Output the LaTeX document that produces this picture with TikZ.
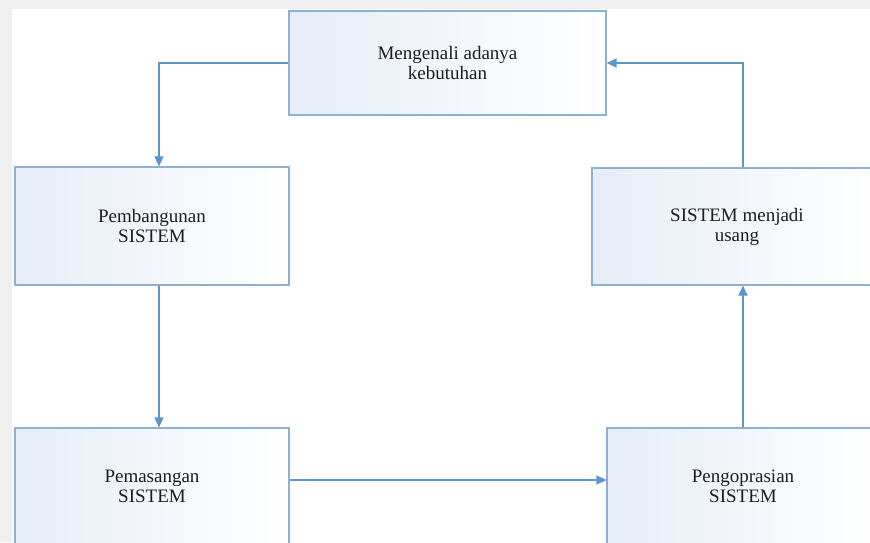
\documentclass[tikz,border=0pt]{standalone}
\usepackage{fontspec}
\setmainfont{Liberation Serif}
\usetikzlibrary{arrows.meta,calc}
\definecolor{framegray}{HTML}{EFEFEF}
\definecolor{boxline}{HTML}{8DB1D4}
\definecolor{boxfill}{HTML}{E6EDF6}
\definecolor{arrowblue}{HTML}{5E95C8}
\definecolor{txt}{HTML}{1E1E1E}
\tikzset{
  stagebox/.style={draw=boxline, line width=1.1pt, inner sep=0pt,
    shading=axis, shading angle=-60, left color=boxfill, right color=white,
    align=center, text=txt, font=\fontsize{19}{20}\selectfont},
  flowarrow/.style={draw=arrowblue, line width=1.2pt,
    -{Triangle[length=10pt,width=9pt]}},
}
\begin{document}
\begin{tikzpicture}[x=1pt,y=-1pt]
\useasboundingbox (0,0) rectangle (870,542);
\clip (0,0) rectangle (870,542);
\fill[framegray] (0,0) rectangle (870,542);
\fill[white] (12,9) rectangle (870,542);

\node[stagebox, minimum width=317pt, minimum height=104pt] (top) at (447.5,63)
  {Mengenali adanya\\kebutuhan};
\node[stagebox, minimum width=274pt, minimum height=118pt] (pb) at (152,226)
  {Pembangunan\\SISTEM};
\node[stagebox, minimum width=290pt, minimum height=117pt] (rm) at (737,226.5)
  {SISTEM menjadi\\usang};
\node[stagebox, minimum width=274pt, minimum height=117pt] (pm) at (152,486.5)
  {Pemasangan\\SISTEM};
\node[stagebox, minimum width=272pt, minimum height=117pt] (po) at (743,486.5)
  {Pengoprasian\\SISTEM};

\draw[flowarrow] (top.west) -| ([xshift=7pt]pb.north);
\draw[flowarrow] ([xshift=7pt]pb.south) -- ([xshift=7pt]pm.north);
\draw[flowarrow] ([yshift=6.5pt]pm.east) -- ([yshift=6.5pt]pm.east -| po.west);
\draw[flowarrow] (po.north) -- (po.north |- rm.south);
\draw[flowarrow] (po.north |- rm.north) |- (top.east);
\end{tikzpicture}
\end{document}
